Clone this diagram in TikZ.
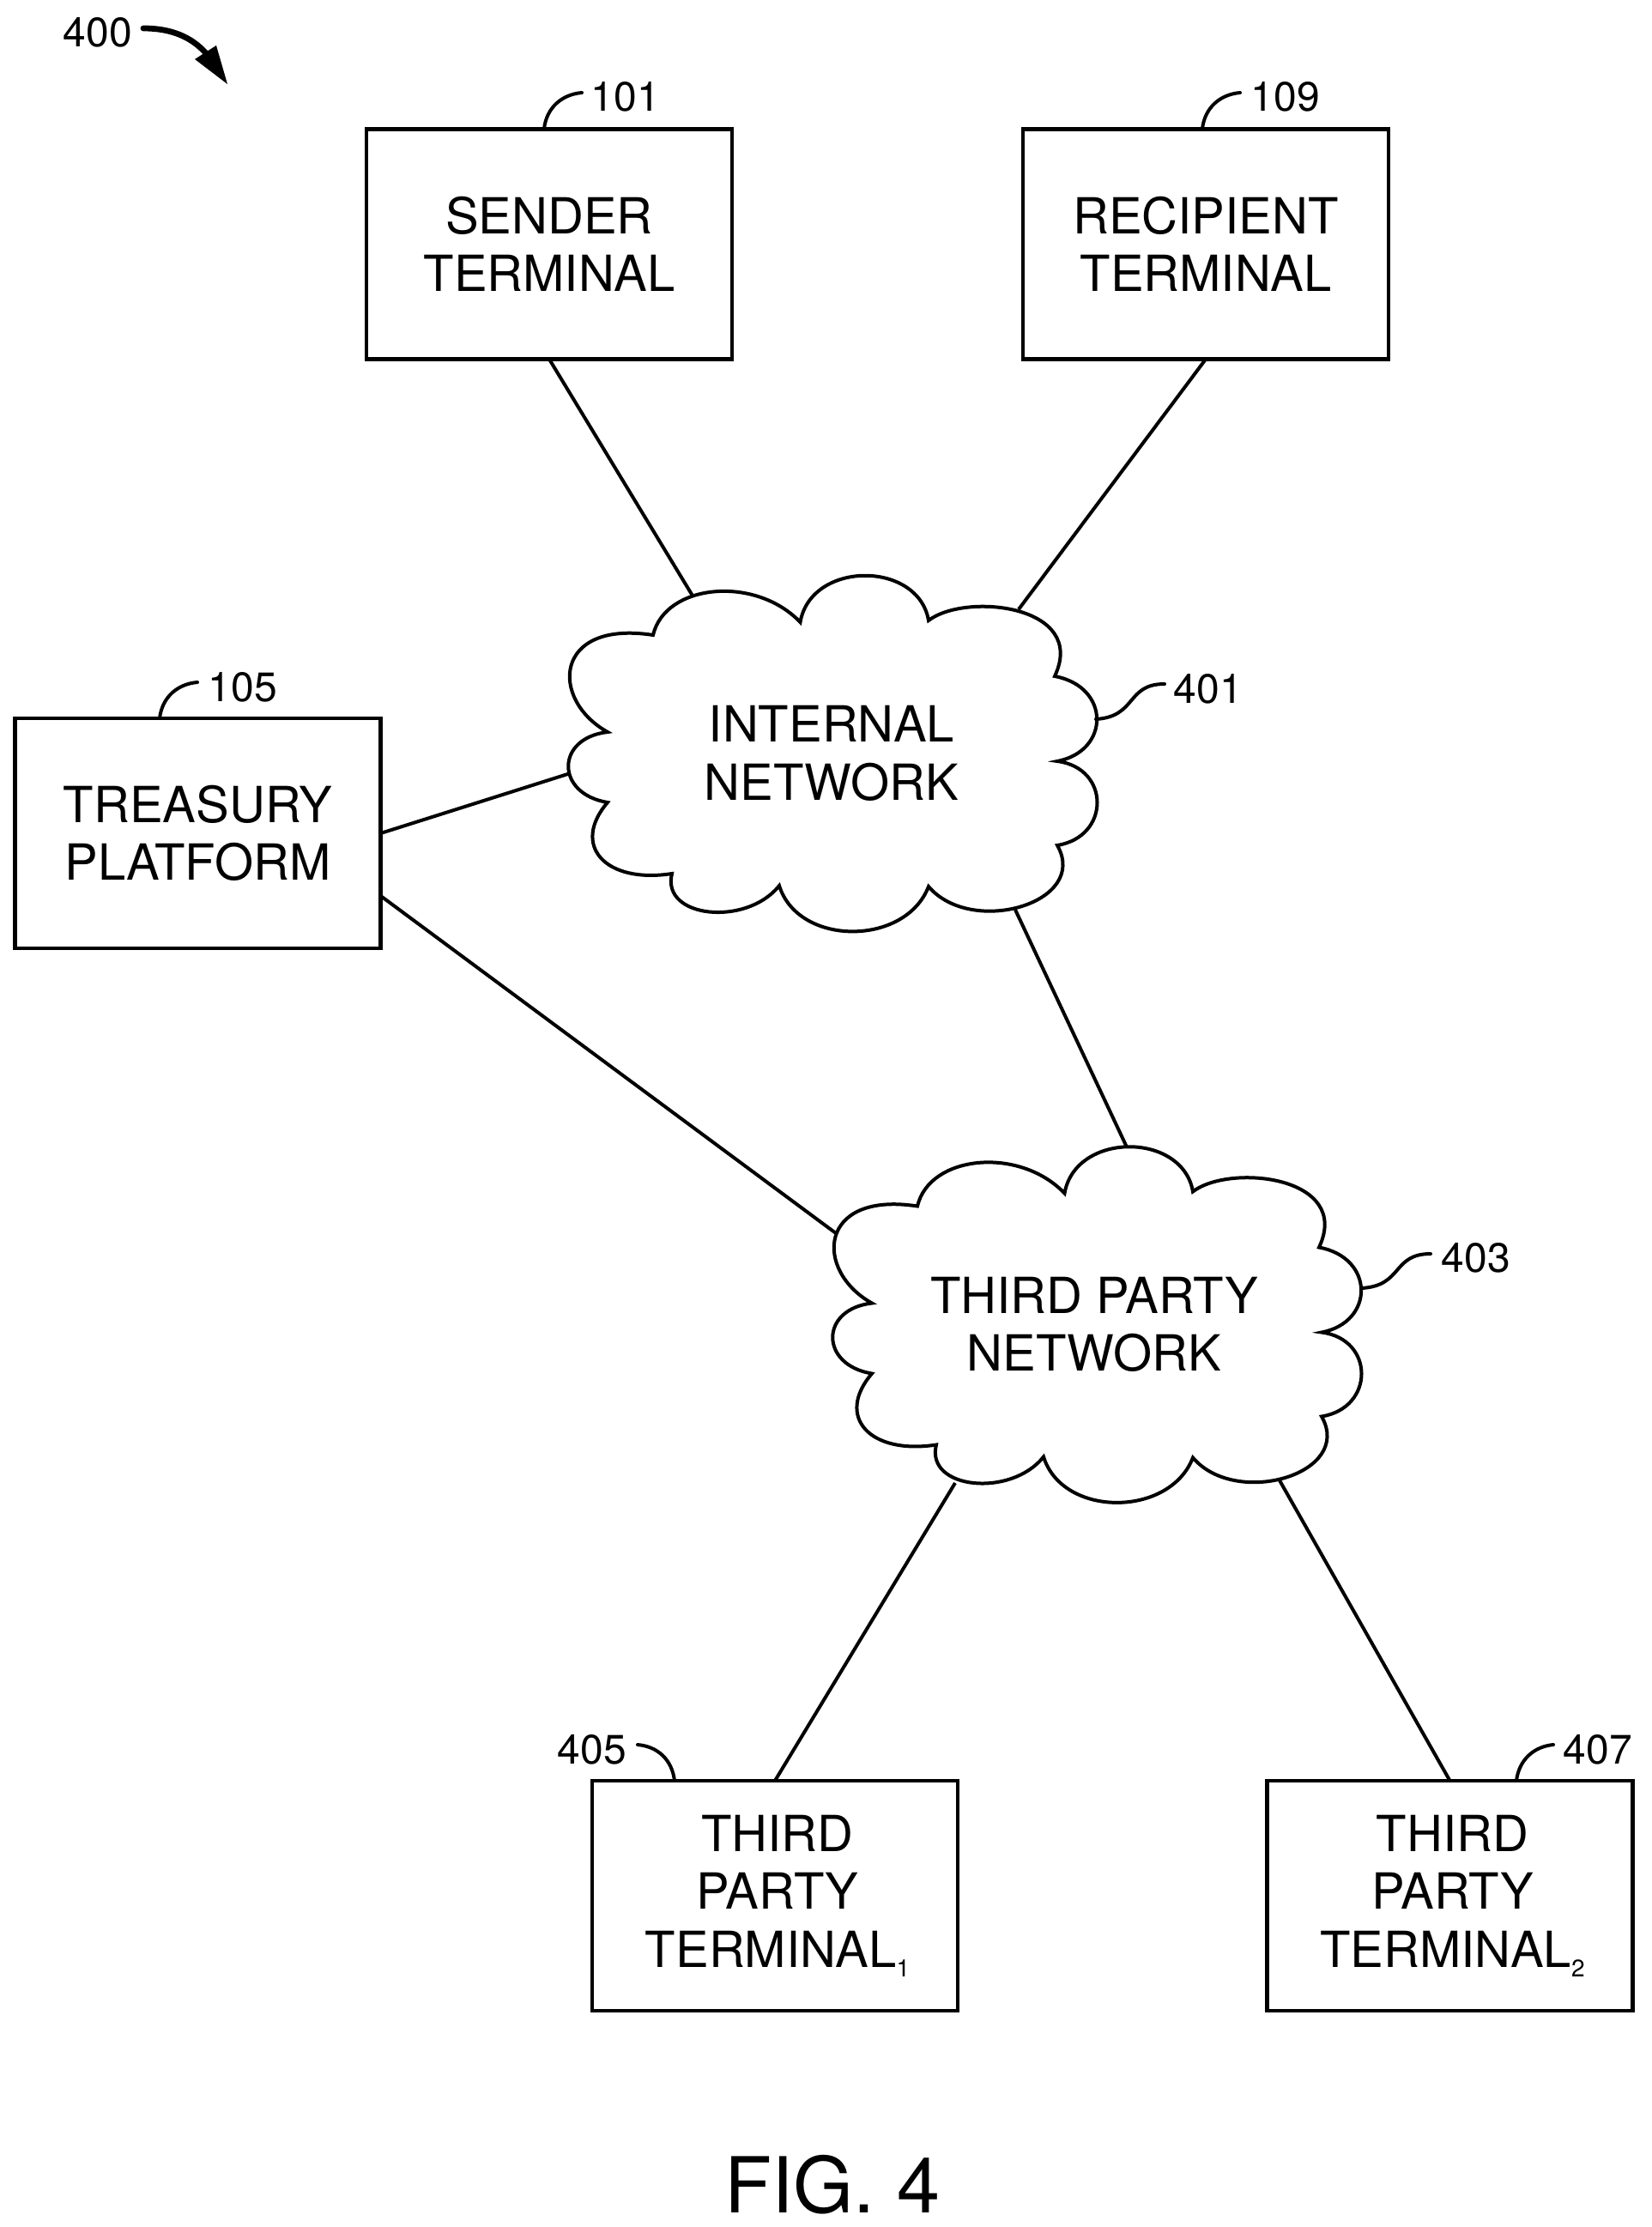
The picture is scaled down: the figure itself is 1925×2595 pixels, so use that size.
\documentclass[tikz,border=0pt]{standalone}
\usepackage{fontspec}
\setmainfont{TeX Gyre Heros}
\newcommand{\drawcloudshape}{%
  \draw[cloudline] (932.5,725)
    .. controls (945,653) and (1070,653) .. (1082,723)
    .. controls (1125,690) and (1268,705) .. (1229,788)
    .. controls (1294,800) and (1294,875) .. (1232,887)
    .. controls (1294,895) and (1294,975) .. (1232,985)
    .. controls (1270,1052) and (1132,1092) .. (1082,1033)
    .. controls (1055,1103) and (930,1103) .. (908,1032)
    .. controls (870,1080) and (770,1070) .. (783,1018)
    .. controls (705,1030) and (665,985) .. (708,935)
    .. controls (647,925) and (647,860) .. (708,853)
    .. controls (640,815) and (645,722) .. (761,740)
    .. controls (775,680) and (880,670) .. (932.5,725) -- cycle;%
}
\newcommand{\subnum}[1]{\raisebox{-5.5pt}{\fontsize{14}{14}\selectfont #1}}
\newcommand{\nudge}{\hspace*{3pt}}
\tikzset{
  termbox/.style={draw=black,line width=2.2pt,fill=white,inner sep=0pt,outer sep=0pt,
    minimum width=213pt,minimum height=134pt,align=center,
    font=\fontsize{29}{33.8}\selectfont},
  cloudtext/.style={inner sep=0pt,outer sep=0pt,align=center,
    font=\fontsize{29}{33.8}\selectfont},
  reflabel/.style={inner sep=0pt,outer sep=0pt,font=\fontsize{24}{24}\selectfont},
  figlabel/.style={inner sep=0pt,outer sep=0pt,font=\fontsize{45}{45}\selectfont},
  cloudline/.style={draw=black,line width=2pt,line join=miter},
  conn/.style={draw=black,line width=2pt},
  leader/.style={draw=black,line width=2pt,line cap=round},
}
\begin{document}
\begin{tikzpicture}[x=0.5pt,y=-0.5pt]
\useasboundingbox (0,0) rectangle (1925,2595);
% clouds
\drawcloudshape
\begin{scope}[shift={(308,665.5)}]
  \drawcloudshape
\end{scope}
\node[cloudtext] (internal) at (969,878) {INTERNAL\\NETWORK};
\node[cloudtext] (thirdnet) at (1275,1543.5) {THIRD PARTY\\NETWORK};
% boxes
\node[termbox] (sender) at (640,284.5) {SENDER\\TERMINAL};
\node[termbox] (recipient) at (1405,284.5) {RECIPIENT\\TERMINAL};
\node[termbox] (treasury) at (230.5,971) {TREASURY\\PLATFORM};
\node[termbox] (tpa) at (903,2209) {\nudge THIRD\\\nudge PARTY\\\nudge TERMINAL\subnum{1}};
\node[termbox] (tpb) at (1689.5,2209) {\nudge THIRD\\\nudge PARTY\\\nudge TERMINAL\subnum{2}};
% connector attachment points
\coordinate (inA) at (807.5,695);
\coordinate (inB) at (1187,710);
\coordinate (inC) at (662.4,901.7);
\coordinate (inD) at (1183,1060);
\coordinate (tnA) at (973.6,1436.7);
\coordinate (tnB) at (1313,1336.7);
\coordinate (tnC) at (1113,1728);
\coordinate (tnD) at (1491,1725);
\coordinate (tlow) at (445,1045);
% connectors
\draw[conn] (sender.south) -- (inA);
\draw[conn] (recipient.south) -- (inB);
\draw[conn] (treasury.east) -- (inC);
\draw[conn] (tlow) -- (tnA);
\draw[conn] (inD) -- (tnB);
\draw[conn] (tnC) -- (tpa.north);
\draw[conn] (tnD) -- (tpb.north);
% reference labels
\node[reflabel,anchor=base] (l400) at (114,55) {400};
\node[reflabel,anchor=base] (l101) at (729,130) {101};
\node[reflabel,anchor=base] (l109) at (1498,130) {109};
\node[reflabel,anchor=base] (l105) at (283,817) {105};
\node[reflabel,anchor=base] (l401) at (1408,819) {401};
\node[reflabel,anchor=base] (l403) at (1720,1482) {403};
\node[reflabel,anchor=base] (l405) at (690,2055) {405};
\node[reflabel,anchor=base] (l407) at (1862,2055) {407};
\node[figlabel,anchor=base] (fig) at (970,2578) {FIG. 4};
% leaders
\coordinate (b101) at (634,150);
\coordinate (e101) at (678,108);
\coordinate (b109) at (1401,150);
\coordinate (e109) at (1445,108);
\coordinate (b105) at (186,837);
\coordinate (e105) at (230,795);
\coordinate (b401) at (1277,838);
\coordinate (e401) at (1357,797);
\coordinate (b403) at (1587,1501);
\coordinate (e403) at (1667,1461);
\coordinate (b405) at (786,2075);
\coordinate (e405) at (743,2033);
\coordinate (b407) at (1767,2075);
\coordinate (e407) at (1810,2033);
\draw[leader] (b101) .. controls (637,125) and (655,110) .. (e101);
\draw[leader] (b109) .. controls (1404,125) and (1422,110) .. (e109);
\draw[leader] (b105) .. controls (189,812) and (207,797) .. (e105);
\draw[leader] (b401) .. controls (1325,835) and (1312,797) .. (e401);
\draw[leader] (b403) .. controls (1635,1498) and (1622,1461) .. (e403);
\draw[leader] (b405) .. controls (783,2050) and (766,2035) .. (e405);
\draw[leader] (b407) .. controls (1770,2050) and (1788,2035) .. (e407);
% arrow of 400
\coordinate (a400s) at (167,33);
\coordinate (a400e) at (240,62);
\coordinate (a400t) at (265,98);
\coordinate (a400l) at (227,69);
\coordinate (a400r) at (252,53);
\draw[line width=3.4pt,line cap=round] (a400s) .. controls (198,33) and (222,42) .. (a400e);
\fill (a400t) -- (a400l) -- (a400r) -- cycle;
\end{tikzpicture}
\end{document}
